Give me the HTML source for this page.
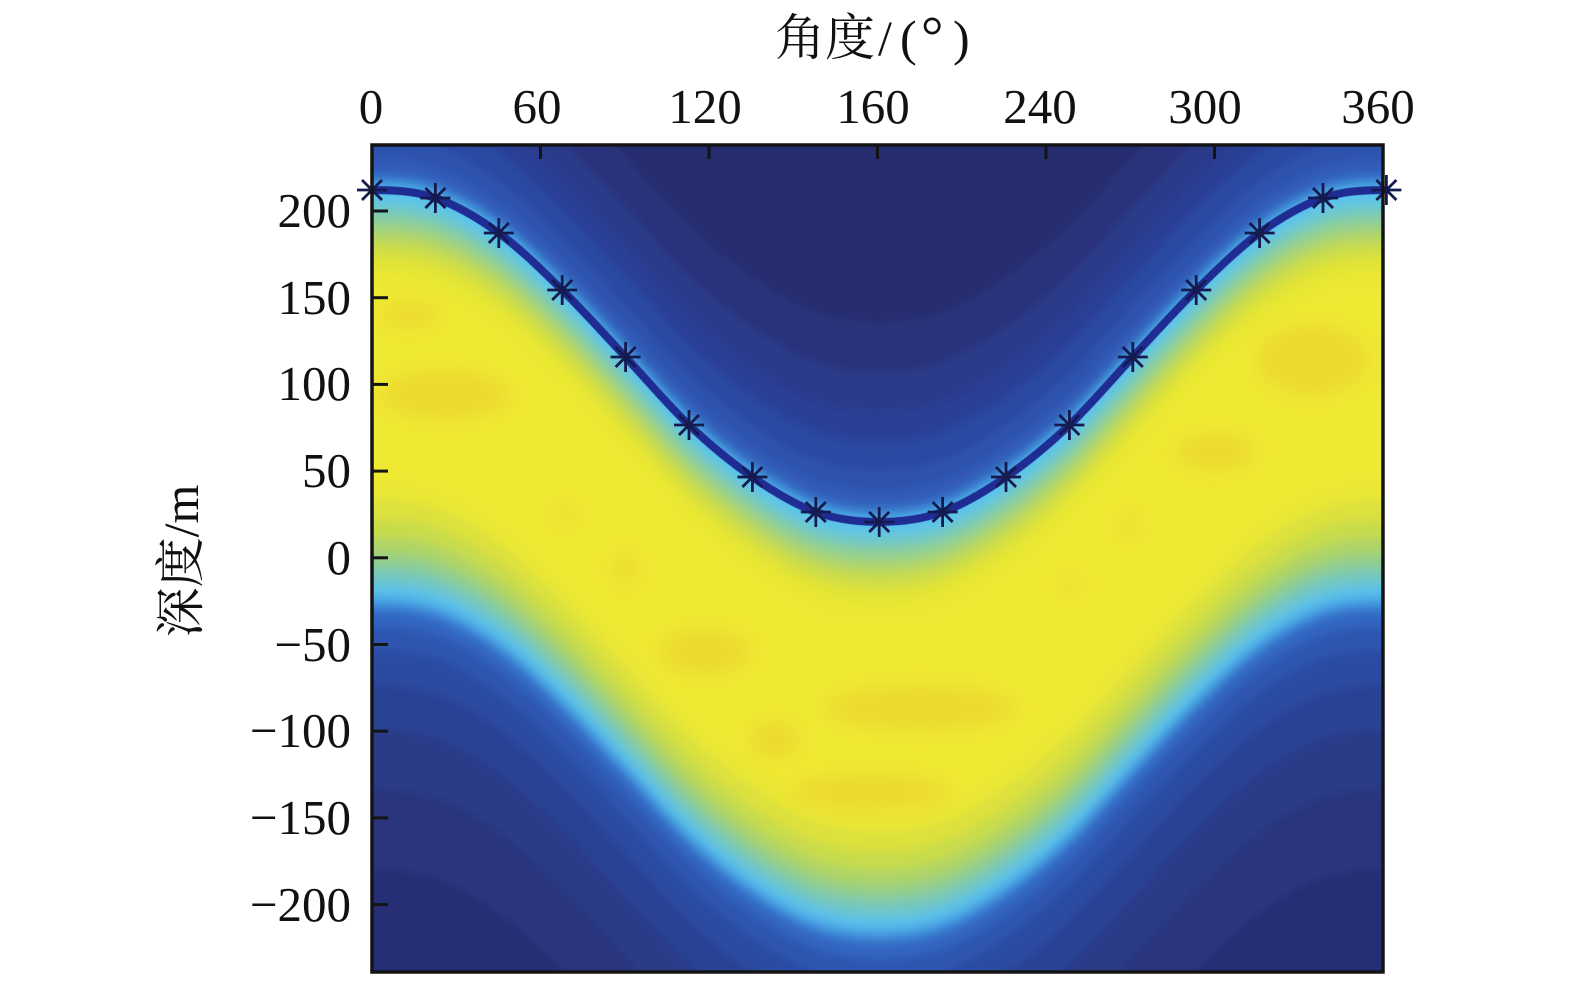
<!DOCTYPE html>
<html>
<head>
<meta charset="utf-8">
<style>
html,body{margin:0;padding:0;background:#fff;width:1575px;height:984px;overflow:hidden;}
svg{display:block;}
.num{font-family:"Liberation Serif","Noto Serif CJK SC",serif;font-size:49px;fill:#111;}
.cjk{font-family:"Liberation Serif","Noto Serif CJK SC","Noto Sans CJK SC",serif;font-size:50px;fill:#111;}
</style>
</head>
<body>
<svg width="1575" height="984" viewBox="0 0 1575 984" xmlns="http://www.w3.org/2000/svg" overflow="hidden">
<defs>
  <filter id="bl" filterUnits="userSpaceOnUse" x="300" y="100" width="1160" height="884">
    <feGaussianBlur stdDeviation="4.5"/>
  </filter>
  <filter id="bl2" filterUnits="userSpaceOnUse" x="300" y="100" width="1160" height="884">
    <feGaussianBlur stdDeviation="10"/>
  </filter>
  <path id="R" d="M308.6,198 C329.7,190.8 350.9,190 372,190 C393.1,190 414.3,190.8 435.4,198 C456.5,205.2 477.7,217.7 498.8,233 C519.9,248.3 541.1,269.3 562.2,290 C583.3,310.7 604.5,334.5 625.6,357 C646.7,379.5 667.9,405 689,425 C710.1,445 731.3,462.5 752.4,477 C773.5,491.5 794.7,504.5 815.8,512 C836.9,519.5 858.1,522 879.2,522 C900.3,522 921.5,519.5 942.6,512 C963.7,504.5 984.9,491.5 1006,477 C1027.1,462.5 1048.3,445 1069.4,425 C1090.5,405 1111.7,379.5 1132.8,357 C1153.9,334.5 1175.1,310.7 1196.2,290 C1217.3,269.3 1238.5,248.3 1259.6,233 C1280.7,217.7 1301.9,205.2 1323,198 C1344.1,190.8 1365.3,190 1386.4,190 C1407.5,190 1428.7,190.8 1449.8,198 L1449.8,1000 L308.6,1000 Z"/>
  <path id="L" d="M308.6,198 C329.7,190.8 350.9,190 372,190 C393.1,190 414.3,190.8 435.4,198 C456.5,205.2 477.7,217.7 498.8,233 C519.9,248.3 541.1,269.3 562.2,290 C583.3,310.7 604.5,334.5 625.6,357 C646.7,379.5 667.9,405 689,425 C710.1,445 731.3,462.5 752.4,477 C773.5,491.5 794.7,504.5 815.8,512 C836.9,519.5 858.1,522 879.2,522 C900.3,522 921.5,519.5 942.6,512 C963.7,504.5 984.9,491.5 1006,477 C1027.1,462.5 1048.3,445 1069.4,425 C1090.5,405 1111.7,379.5 1132.8,357 C1153.9,334.5 1175.1,310.7 1196.2,290 C1217.3,269.3 1238.5,248.3 1259.6,233 C1280.7,217.7 1301.9,205.2 1323,198 C1344.1,190.8 1365.3,190 1386.4,190 C1407.5,190 1428.7,190.8 1449.8,198"/>
  <g id="st" stroke="#151b4e" stroke-width="2.8" fill="none" stroke-linecap="butt">
    <path d="M-15,0 H15 M0,-15 V15 M-10,-10 L10,10 M-10,10 L10,-10"/>
  </g>
  <pattern id="hm" patternUnits="userSpaceOnUse" x="0" y="0" width="1575" height="984">
    <g filter="url(#bl)">
      <rect x="300" y="100" width="1160" height="884" fill="#272e70"/>
      <use href="#R" y="-200" fill="#29337c"/>
      <use href="#R" y="-150" fill="#2a3a8a"/>
      <use href="#R" y="-110" fill="#2b4096"/>
      <use href="#R" y="-80" fill="#2c48a2"/>
      <use href="#R" y="-52" fill="#2e52ae"/>
      <use href="#R" y="-30" fill="#305cb8"/>
      <use href="#R" y="-17" fill="#356ec6"/>
      <use href="#R" y="-10" fill="#3f90da"/>
      <use href="#R" y="-5" fill="#4db2e8"/>
      <use href="#R" y="0" fill="#5ac4ee"/>
      <use href="#R" y="10" fill="#66c6dc"/>
      <use href="#R" y="18" fill="#78cab8"/>
      <use href="#R" y="28" fill="#94d090"/>
      <use href="#R" y="40" fill="#b2d666"/>
      <use href="#R" y="52" fill="#cedd48"/>
      <use href="#R" y="66" fill="#e2e436"/>
      <use href="#R" y="82" fill="#ece832"/>
      <use href="#R" y="100" fill="#efe930"/>
      <use href="#R" y="290" fill="#eae734"/>
      <use href="#R" y="310" fill="#dce13c"/>
      <use href="#R" y="330" fill="#c8dc4c"/>
      <use href="#R" y="348" fill="#aed466"/>
      <use href="#R" y="364" fill="#92ce8e"/>
      <use href="#R" y="378" fill="#76c8bc"/>
      <use href="#R" y="392" fill="#5ec2e4"/>
      <use href="#R" y="404" fill="#4eaeea"/>
      <use href="#R" y="412" fill="#3e86d6"/>
      <use href="#R" y="420" fill="#3266c2"/>
      <use href="#R" y="436" fill="#2e56b0"/>
      <use href="#R" y="460" fill="#2c4ca2"/>
      <use href="#R" y="495" fill="#2b4394"/>
      <use href="#R" y="540" fill="#2a3a88"/>
      <use href="#R" y="600" fill="#29347e"/>
      <use href="#R" y="680" fill="#282f74"/>
    </g>
    <g filter="url(#bl2)" fill="#ebc52a" opacity="0.45">
      <ellipse cx="410" cy="315" rx="30" ry="12"/>
      <ellipse cx="445" cy="395" rx="65" ry="24"/>
      <ellipse cx="565" cy="515" rx="10" ry="10"/>
      <ellipse cx="625" cy="570" rx="10" ry="18"/>
      <ellipse cx="705" cy="652" rx="45" ry="22"/>
      <ellipse cx="775" cy="740" rx="25" ry="18"/>
      <ellipse cx="920" cy="708" rx="95" ry="22"/>
      <ellipse cx="870" cy="792" rx="80" ry="18"/>
      <ellipse cx="1215" cy="452" rx="40" ry="18"/>
      <ellipse cx="1312" cy="360" rx="55" ry="35"/>
      <ellipse cx="1130" cy="525" rx="9" ry="12"/>
      <ellipse cx="1070" cy="585" rx="7" ry="12"/>
    </g>
    <use href="#L" fill="none" stroke="#1f2c94" stroke-width="8"/>
  </pattern>
</defs>

<!-- heatmap -->
<rect x="372" y="145" width="1011" height="827" fill="url(#hm)"/>

<!-- markers -->
<use href="#st" x="372" y="190"/>
<use href="#st" x="435.4" y="198"/>
<use href="#st" x="498.8" y="233"/>
<use href="#st" x="562.2" y="290"/>
<use href="#st" x="625.6" y="357"/>
<use href="#st" x="689" y="425"/>
<use href="#st" x="752.4" y="477"/>
<use href="#st" x="815.8" y="512"/>
<use href="#st" x="879.2" y="522"/>
<use href="#st" x="942.6" y="512"/>
<use href="#st" x="1006" y="477"/>
<use href="#st" x="1069.4" y="425"/>
<use href="#st" x="1132.8" y="357"/>
<use href="#st" x="1196.2" y="290"/>
<use href="#st" x="1259.6" y="233"/>
<use href="#st" x="1323" y="198"/>
<use href="#st" x="1386.4" y="190"/>

<!-- frame -->
<rect x="372" y="145" width="1011" height="827" fill="none" stroke="#141414" stroke-width="3.5"/>

<!-- ticks -->
<g stroke="#141414" stroke-width="3">
  <line x1="540.5" y1="145" x2="540.5" y2="159"/>
  <line x1="709" y1="145" x2="709" y2="159"/>
  <line x1="877.5" y1="145" x2="877.5" y2="159"/>
  <line x1="1046" y1="145" x2="1046" y2="159"/>
  <line x1="1214.5" y1="145" x2="1214.5" y2="159"/>
  <line x1="372" y1="211" x2="388" y2="211"/>
  <line x1="372" y1="297.7" x2="388" y2="297.7"/>
  <line x1="372" y1="384.4" x2="388" y2="384.4"/>
  <line x1="372" y1="471.1" x2="388" y2="471.1"/>
  <line x1="372" y1="557.8" x2="388" y2="557.8"/>
  <line x1="372" y1="644.5" x2="388" y2="644.5"/>
  <line x1="372" y1="731.2" x2="388" y2="731.2"/>
  <line x1="372" y1="817.9" x2="388" y2="817.9"/>
  <line x1="372" y1="904.6" x2="388" y2="904.6"/>
</g>

<!-- x tick labels -->
<g class="num" text-anchor="middle">
  <text x="371" y="123">0</text>
  <text x="537" y="123">60</text>
  <text x="705" y="123">120</text>
  <text x="873" y="123">160</text>
  <text x="1040" y="123">240</text>
  <text x="1205" y="123">300</text>
  <text x="1378" y="123">360</text>
</g>

<!-- y tick labels -->
<g class="num" text-anchor="end">
  <text x="351" y="227">200</text>
  <text x="351" y="314">150</text>
  <text x="351" y="400">100</text>
  <text x="351" y="487">50</text>
  <text x="351" y="574">0</text>
  <text x="351" y="661">−50</text>
  <text x="351" y="747">−100</text>
  <text x="351" y="834">−150</text>
  <text x="351" y="921">−200</text>
</g>

<!-- titles -->
<text class="cjk" y="55"><tspan x="775">角度</tspan><tspan x="878">/</tspan><tspan x="900">(</tspan><tspan x="921" font-size="56">°</tspan><tspan x="953">)</tspan></text>
<text class="cjk" x="178" y="581" text-anchor="middle" transform="rotate(-90 178 561)">深度/m</text>
</svg>
</body>
</html>
